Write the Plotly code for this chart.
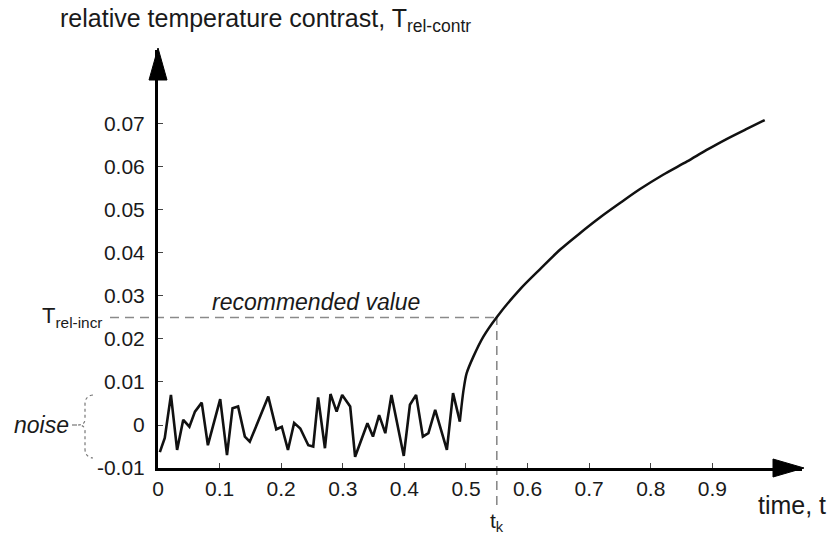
import plotly.graph_objects as go

# ---------------- data ----------------
noise_t = [0.003, 0.011, 0.021, 0.031, 0.041, 0.051, 0.060, 0.071, 0.081, 0.101,
           0.112, 0.121, 0.130, 0.141, 0.149, 0.179, 0.192, 0.201, 0.211, 0.221,
           0.231, 0.244, 0.252, 0.260, 0.271, 0.280, 0.290, 0.299, 0.312, 0.320,
           0.340, 0.349, 0.359, 0.369, 0.379, 0.399, 0.409, 0.419, 0.430, 0.439,
           0.450, 0.469, 0.479, 0.490]
noise_v = [-0.0063, -0.0030, 0.0070, -0.0058, 0.0012, -0.0004, 0.0031, 0.0052, -0.0047, 0.0060,
           -0.0070, 0.0039, 0.0043, -0.0027, -0.0039, 0.0066, -0.0010, -0.0004, -0.0058, 0.0005,
           -0.0008, -0.0047, -0.0050, 0.0064, -0.0054, 0.0072, 0.0031, 0.0070, 0.0043, -0.0074,
           0.0004, -0.0027, 0.0023, -0.0019, 0.0070, -0.0072, 0.0047, 0.0070, -0.0027, -0.0019,
           0.0035, -0.0058, 0.0074, 0.0008]

growth_t = [0.490, 0.496, 0.501, 0.512, 0.528, 0.549, 0.588, 0.620, 0.653, 0.685, 0.718,
            0.750, 0.782, 0.820, 0.859, 0.890, 0.923, 0.955, 0.985]
growth_v = [0.0008, 0.0081, 0.0120, 0.0159, 0.0205, 0.0249, 0.0316, 0.0362, 0.0408, 0.0446, 0.0483,
            0.0516, 0.0548, 0.0582, 0.0613, 0.0639, 0.0665, 0.0688, 0.0709]

t_k = 0.55
T_rel_incr = 0.025

x_ticks = [0, 0.1, 0.2, 0.3, 0.4, 0.5, 0.6, 0.7, 0.8, 0.9]
x_tick_labels = ["0", "0.1", "0.2", "0.3", "0.4", "0.5", "0.6", "0.7", "0.8", "0.9"]
y_ticks = [-0.01, 0, 0.01, 0.02, 0.03, 0.04, 0.05, 0.06, 0.07]
y_tick_labels = ["-0.01", "0", "0.01", "0.02", "0.03", "0.04", "0.05", "0.06", "0.07"]

# ---------------- layout geometry ----------------
W, H = 834, 536
ML, MR, MT, MB = 158, 32, 50, 68
PW, PH = W - ML - MR, H - MT - MB
X_RANGE = [0, 1.0455]
Y_RANGE = [-0.01, 0.0872]


def px(X):
    return (X - ML) / PW


def py(Y):
    return (H - MB - Y) / PH


def ypaper(v):
    return (v - Y_RANGE[0]) / (Y_RANGE[1] - Y_RANGE[0])


def xpaper(v):
    return (v - X_RANGE[0]) / (X_RANGE[1] - X_RANGE[0])


FONT = "Liberation Sans, Arial, sans-serif"
TXT = "#1a1a1a"
DASH_COL = "#8a8a8a"

fig = go.Figure()
fig.add_trace(go.Scatter(x=noise_t, y=noise_v, mode="lines",
                         line=dict(color="#111111", width=2.6), hoverinfo="skip"))
fig.add_trace(go.Scatter(x=growth_t, y=growth_v, mode="lines",
                         line=dict(color="#111111", width=2.5, shape="spline", smoothing=0.8),
                         hoverinfo="skip"))

shapes = []
# dashed guide lines
shapes.append(dict(type="line", xref="paper", yref="y", x0=px(110), x1=xpaper(t_k),
                   y0=T_rel_incr, y1=T_rel_incr, line=dict(color=DASH_COL, width=1.6, dash="9px,6px"), layer="below"))
shapes.append(dict(type="line", xref="x", yref="paper", x0=t_k, x1=t_k,
                   y0=py(505), y1=ypaper(T_rel_incr), line=dict(color=DASH_COL, width=1.6, dash="9px,6px"), layer="below"))
# arrow heads
shapes.append(dict(type="path", xref="paper", yref="paper",
                   path=f"M {px(ML)} {py(48)} L {px(ML-9)} {py(80)} L {px(ML+9)} {py(80)} Z",
                   fillcolor="black", line=dict(color="black", width=1)))
shapes.append(dict(type="path", xref="paper", yref="paper",
                   path=f"M {px(804)} {py(468)} L {px(773)} {py(459)} L {px(773)} {py(477)} Z",
                   fillcolor="black", line=dict(color="black", width=1)))
# noise brace
brace = (f"M {px(93)} {py(395)} Q {px(85)} {py(396)} {px(85)} {py(404)} "
         f"L {px(85)} {py(419)} Q {px(85)} {py(425)} {px(78)} {py(425)} "
         f"Q {px(85)} {py(425)} {px(85)} {py(431)} "
         f"L {px(85)} {py(449)} Q {px(85)} {py(457)} {px(93)} {py(458)}")
shapes.append(dict(type="path", xref="paper", yref="paper", path=brace,
                   line=dict(color="#777777", width=1.2, dash="dot")))
shapes.append(dict(type="line", xref="paper", yref="paper", x0=px(72), x1=px(77), y0=py(425), y1=py(425),
                   line=dict(color="#777777", width=1.2)))

annotations = [
    dict(text="relative temperature contrast, T<sub>rel-contr</sub>", xref="paper", yref="paper",
         x=px(58), y=py(38), xanchor="left", yanchor="bottom", showarrow=False,
         font=dict(family=FONT, size=25, color=TXT)),
    dict(text="time, t", xref="paper", yref="paper", x=px(756), y=py(505), xanchor="left", yanchor="middle",
         showarrow=False, font=dict(family=FONT, size=25, color=TXT)),
    dict(text="t<sub>k</sub>", xref="x", yref="paper", x=t_k, y=py(522), xanchor="center", yanchor="middle",
         showarrow=False, font=dict(family=FONT, size=21, color=TXT)),
    dict(text="T<sub>rel-incr</sub>", xref="paper", yref="y", x=px(104), y=T_rel_incr, xanchor="right",
         yanchor="middle", showarrow=False, font=dict(family=FONT, size=22, color=TXT)),
    dict(text="<i>recommended value</i>", xref="paper", yref="paper", x=px(210), y=py(302), xanchor="left",
         yanchor="middle", showarrow=False, font=dict(family=FONT, size=23, color=TXT)),
    dict(text="<i>noise</i>", xref="paper", yref="paper", x=px(71), y=py(425), xanchor="right",
         yanchor="middle", showarrow=False, font=dict(family=FONT, size=23, color=TXT)),
]

fig.update_layout(
    width=W, height=H,
    margin=dict(l=ML, r=MR, t=MT, b=MB, pad=0),
    paper_bgcolor="white", plot_bgcolor="white",
    showlegend=False,
    shapes=shapes, annotations=annotations,
    xaxis=dict(range=X_RANGE, showgrid=False, zeroline=False, showline=True, linecolor="black",
               linewidth=3, ticks="inside", ticklen=5, tickwidth=1.2, tickcolor="#444",
               tickvals=x_ticks, ticktext=x_tick_labels,
               tickfont=dict(family=FONT, size=21, color=TXT), fixedrange=True),
    yaxis=dict(range=Y_RANGE, showgrid=False, zeroline=False, showline=True, linecolor="black",
               linewidth=3, ticks="inside", ticklen=5, tickwidth=1.2, tickcolor="#444",
               tickvals=y_ticks, ticktext=y_tick_labels, ticklabelstandoff=6,
               tickfont=dict(family=FONT, size=21, color=TXT), fixedrange=True),
)

fig.write_html("out.html")
